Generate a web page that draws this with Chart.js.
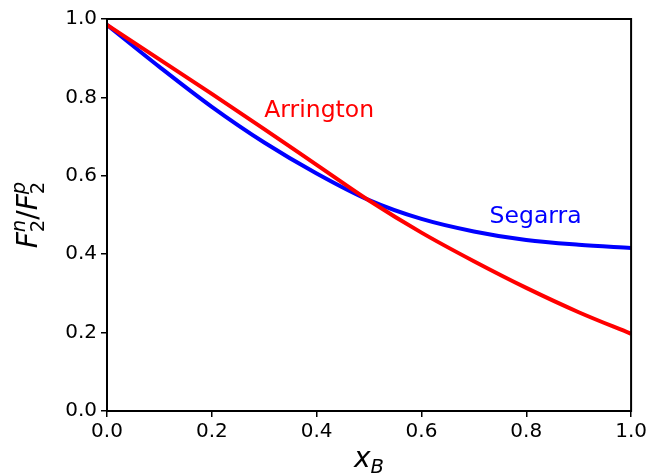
<!DOCTYPE html>
<html>
<head>
<meta charset="utf-8">
<script src="https://cdn.jsdelivr.net/npm/chart.js@4"></script>
<style>
  html, body { margin: 0; padding: 0; background: #fff; }
</style>
</head>
<body>
<canvas id="ratioChart" width="650" height="474"></canvas>
<script>
// x_B grid where the curves were read
const xValues = [0.0, 0.1, 0.2, 0.3, 0.4, 0.5, 0.6, 0.7, 0.8, 0.9, 1.0];
// F2n/F2p, Arrington fit
const arringtonValues = [0.985, 0.897, 0.809, 0.719, 0.628, 0.537, 0.455, 0.382, 0.314, 0.252, 0.197];
// F2n/F2p, Segarra
const segarraValues = [0.985, 0.878, 0.776, 0.685, 0.606, 0.538, 0.490, 0.458, 0.436, 0.424, 0.416];
const xTicks = [0.0, 0.2, 0.4, 0.6, 0.8, 1.0];
const yTicks = [0.0, 0.2, 0.4, 0.6, 0.8, 1.0];

const labels = [
    { text: 'Arrington', x: 0.30, y: 0.75, color: '#ff0000' },
    { text: 'Segarra', x: 0.73, y: 0.48, color: '#0000ff' }
];

function toPoints(values) {
    return xValues.map((x, i) => ({ x: x, y: values[i] }));
}

// draws a run of pieces: [text, font, dy] left to right, subscripts/superscripts stacked
function drawMath(ctx, parts, x, y) {
    let cursor = x;
    parts.forEach(part => {
        if (Array.isArray(part[0])) {
            let w = 0;
            part.forEach(p => {
                ctx.font = p[1];
                ctx.fillText(p[0], cursor, y + p[2]);
                w = Math.max(w, ctx.measureText(p[0]).width);
            });
            cursor += w;
        } else {
            ctx.font = part[1];
            ctx.fillText(part[0], cursor, y + part[2]);
            cursor += ctx.measureText(part[0]).width;
        }
    });
    return cursor - x;
}

function mathWidth(ctx, parts) {
    let w = 0;
    parts.forEach(part => {
        if (Array.isArray(part[0])) {
            let m = 0;
            part.forEach(p => { ctx.font = p[1]; m = Math.max(m, ctx.measureText(p[0]).width); });
            w += m;
        } else {
            ctx.font = part[1];
            w += ctx.measureText(part[0]).width;
        }
    });
    return w;
}

const big = 'italic 28px "DejaVu Sans"';
const bigUp = '28px "DejaVu Sans"';
const small = 'italic 19.6px "DejaVu Sans"';
const smallUp = '19.6px "DejaVu Sans"';

const yTitle = [
    ['F', big, 0],
    [['2', smallUp, 7], ['n', small, -12]],
    ['/', bigUp, 0],
    ['F', big, 0],
    [['2', smallUp, 7], ['p', small, -12]]
];
const xTitle = [
    ['x', big, 0],
    ['B', small, 6]
];

const extrasPlugin = {
    id: 'extras',
    afterDraw(chart) {
        const ctx = chart.ctx;
        const area = chart.chartArea;
        const xs = chart.scales.x;
        const ys = chart.scales.y;
        ctx.save();
        // frame
        ctx.strokeStyle = '#000';
        ctx.lineWidth = 2;
        ctx.strokeRect(area.left, area.top, area.right - area.left, area.bottom - area.top);

        // curve labels
        ctx.font = '23.5px "DejaVu Sans"';
        ctx.textBaseline = 'alphabetic';
        ctx.textAlign = 'left';
        labels.forEach(l => {
            ctx.fillStyle = l.color;
            ctx.fillText(l.text, xs.getPixelForValue(l.x), ys.getPixelForValue(l.y));
        });

        // axis titles
        ctx.fillStyle = '#000';
        const xw = mathWidth(ctx, xTitle);
        drawMath(ctx, xTitle, (area.left + area.right) / 2 - xw / 2, 467);

        const yw = mathWidth(ctx, yTitle);
        ctx.translate(37, (area.top + area.bottom) / 2);
        ctx.rotate(-Math.PI / 2);
        drawMath(ctx, yTitle, -yw / 2, 0);
        ctx.restore();
    }
};

const tickFont = { family: 'DejaVu Sans', size: 20 };

new Chart(document.getElementById('ratioChart'), {
    type: 'line',
    data: {
        datasets: [
            {
                label: 'Arrington',
                data: toPoints(arringtonValues),
                borderColor: '#ff0000',
                borderWidth: 4,
                pointRadius: 0,
                cubicInterpolationMode: 'monotone',
                fill: false
            },
            {
                label: 'Segarra',
                data: toPoints(segarraValues),
                borderColor: '#0000ff',
                borderWidth: 4,
                pointRadius: 0,
                cubicInterpolationMode: 'monotone',
                fill: false
            }
        ]
    },
    options: {
        responsive: false,
        animation: false,
        devicePixelRatio: 1,
        layout: { padding: { top: 19, right: 17, left: 0, bottom: 0 } },
        plugins: {
            legend: { display: false },
            tooltip: { enabled: false }
        },
        scales: {
            x: {
                type: 'linear',
                min: 0,
                max: 1,
                border: { display: false },
                grid: { drawOnChartArea: false, drawTicks: true, tickLength: 6, tickColor: '#000', lineWidth: 1.5 },
                afterBuildTicks: scale => { scale.ticks = xTicks.map(v => ({ value: v })); },
                ticks: {
                    color: '#000',
                    font: tickFont,
                    padding: 3,
                    maxRotation: 0,
                    callback: v => Number(v).toFixed(1)
                },
                afterFit: scale => { scale.height = 63; }
            },
            y: {
                type: 'linear',
                min: 0,
                max: 1,
                border: { display: false },
                grid: { drawOnChartArea: false, drawTicks: true, tickLength: 6, tickColor: '#000', lineWidth: 1.5 },
                afterBuildTicks: scale => { scale.ticks = yTicks.map(v => ({ value: v })); },
                ticks: {
                    color: '#000',
                    font: tickFont,
                    padding: 4,
                    callback: v => Number(v).toFixed(1)
                },
                afterFit: scale => { scale.width = 107; }
            }
        }
    },
    plugins: [extrasPlugin]
});
</script>
</body>
</html>
